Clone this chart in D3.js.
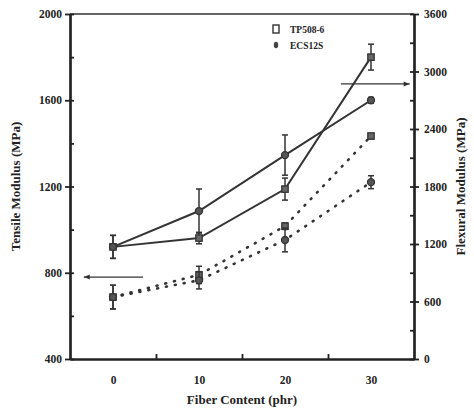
<!DOCTYPE html>
<html>
<head>
<meta charset="utf-8">
<script src="https://cdn.jsdelivr.net/npm/d3@7"></script>
<style>
  body { margin: 0; background: #fff; }
  svg { display: block; }
  text { font-family: "Liberation Serif", "DejaVu Serif", serif; font-weight: bold; fill: #222; }
  .domain, .tick line { stroke: #222; }
</style>
</head>
<body>
<svg width="474" height="411"></svg>
<script>
// fiber content (phr)
const fiber = [0, 10, 20, 30];
const seriesNames = ["TP508-6", "ECS12S"];

// tensile modulus (MPa) – dotted lines, left axis
const tensileTP = [687, 790, 1016, 1434];
const tensileTPErr = [55, 40, 15, 12];
const tensileECS = [687, 765, 952, 1220];
const tensileECSErr = [55, 40, 55, 30];

// flexural modulus (MPa) – solid lines, right axis
const flexTP = [1170, 1262, 1773, 3150];
const flexTPErr = [120, 60, 115, 135];
const flexECS = [1170, 1544, 2128, 2700];
const flexECSErr = [120, 230, 210, 30];

const leftTicks = [400, 800, 1200, 1600, 2000];
const leftMinor = [600, 1000, 1400, 1800];
const rightTicks = [0, 600, 1200, 1800, 2400, 3000, 3600];
const rightMinor = [300, 900, 1500, 2100, 2700, 3300];
const xTicks = [0, 10, 20, 30];
const xMinor = [5, 15, 25];

const svg = d3.select("svg");
const m = { left: 70, right: 60, top: 14, bottom: 52 };
const W = 474, H = 411;
const fmt = d3.format("d");

const x = d3.scaleLinear().domain([-5, 35]).range([m.left, W - m.right]);
const yL = d3.scaleLinear().domain([400, 2000]).range([H - m.bottom, m.top]);
const yR = d3.scaleLinear().domain([0, 3600]).range([H - m.bottom, m.top]);

// top border
svg.append("line")
  .attr("x1", x(-5)).attr("x2", x(35))
  .attr("y1", m.top).attr("y2", m.top)
  .attr("stroke", "#333").attr("stroke-width", 1.6);

// left axis: outward major ticks + inward all ticks
const gL = svg.append("g").attr("transform", `translate(${m.left},0)`);
gL.call(d3.axisLeft(yL).tickValues(leftTicks).tickFormat(fmt).tickSize(5).tickSizeOuter(0).tickPadding(3));
gL.append("g").call(d3.axisRight(yL).tickValues(leftTicks.concat(leftMinor)).tickSize(4).tickFormat("").tickSizeOuter(0));

const gR = svg.append("g").attr("transform", `translate(${W - m.right},0)`);
gR.call(d3.axisRight(yR).tickValues(rightTicks).tickFormat(fmt).tickSize(5).tickSizeOuter(0).tickPadding(5));
gR.append("g").call(d3.axisLeft(yR).tickValues(rightTicks.concat(rightMinor)).tickSize(4).tickFormat("").tickSizeOuter(0));

const gX = svg.append("g").attr("transform", `translate(0,${H - m.bottom})`);
gX.call(d3.axisBottom(x).tickValues(xTicks).tickFormat(fmt).tickSize(0).tickSizeOuter(0).tickPadding(17));
gX.append("g").call(d3.axisTop(x).tickValues(xMinor).tickSize(5).tickFormat("").tickSizeOuter(0));

svg.selectAll(".domain").attr("stroke-width", 2.2);
svg.selectAll(".tick line").attr("stroke-width", 1.8);
svg.selectAll(".tick text")
  .style("font-family", "'Liberation Serif', serif")
  .style("font-weight", "bold")
  .style("font-size", "11.5px").attr("fill", "#222");

// axis titles
svg.append("text")
  .attr("x", x(15)).attr("y", 404)
  .attr("text-anchor", "middle").style("font-size", "13px")
  .text("Fiber Content (phr)");
svg.append("text")
  .attr("transform", `translate(20,${(m.top + H - m.bottom) / 2}) rotate(-90)`)
  .attr("text-anchor", "middle").style("font-size", "13px")
  .text("Tensile Modulus (MPa)");
svg.append("text")
  .attr("transform", `translate(465,${(m.top + H - m.bottom) / 2}) rotate(-90)`)
  .attr("text-anchor", "middle").style("font-size", "13px")
  .text("Flexural Modulus (MPa)");

const line = (scale) => d3.line().x((d, i) => x(fiber[i])).y(d => scale(d));

function drawSeries(vals, errs, scale, dotted, shape) {
  const g = svg.append("g");
  g.append("path")
    .attr("d", line(scale)(vals))
    .attr("fill", "none")
    .attr("stroke", "#333")
    .attr("stroke-width", dotted ? 2.6 : 2)
    .attr("stroke-linecap", dotted ? "round" : "butt")
    .attr("stroke-dasharray", dotted ? "1,8" : null);
  vals.forEach((v, i) => {
    const cx = x(fiber[i]);
    const t = scale(v + errs[i]), b = scale(v - errs[i]);
    g.append("line").attr("x1", cx).attr("x2", cx).attr("y1", t).attr("y2", b)
      .attr("stroke", "#333").attr("stroke-width", 1.5);
    [t, b].forEach(yy => g.append("line")
      .attr("x1", cx - 3).attr("x2", cx + 3).attr("y1", yy).attr("y2", yy)
      .attr("stroke", "#333").attr("stroke-width", 1.5));
    const cy = scale(v);
    if (shape === "square") {
      g.append("rect").attr("x", cx - 3.2).attr("y", cy - 3.2).attr("width", 6.4).attr("height", 6.4)
        .attr("fill", "#666").attr("stroke", "#333").attr("stroke-width", 1.3);
    } else {
      g.append("circle").attr("cx", cx).attr("cy", cy).attr("r", 3.5)
        .attr("fill", "#555").attr("stroke", "#333").attr("stroke-width", 1.3);
    }
  });
}

drawSeries(tensileTP, tensileTPErr, yL, true, "square");
drawSeries(tensileECS, tensileECSErr, yL, true, "diamond");
drawSeries(flexTP, flexTPErr, yR, false, "square");
drawSeries(flexECS, flexECSErr, yR, false, "diamond");

// arrows pointing to the matching axis
function arrow(x1, x2, yy) {
  svg.append("line").attr("x1", x1).attr("x2", x2).attr("y1", yy).attr("y2", yy)
    .attr("stroke", "#333").attr("stroke-width", 1.3);
  const dir = x2 > x1 ? 1 : -1;
  svg.append("path")
    .attr("d", `M${x2},${yy} L${x2 - dir * 6},${yy - 2.5} L${x2 - dir * 6},${yy + 2.5} Z`)
    .attr("fill", "#333");
}
arrow(x(3.5), x(-3.4), yL(780));
arrow(x(26.5), x(34.5), yR(2870));

// legend
const leg = svg.append("g").attr("transform", "translate(276,29)");
seriesNames.forEach((name, i) => {
  const yy = i * 16;
  if (i === 0) {
    leg.append("rect").attr("x", -3).attr("y", yy - 4).attr("width", 6).attr("height", 8)
      .attr("fill", "none").attr("stroke", "#333").attr("stroke-width", 1.4);
  } else {
    leg.append("ellipse").attr("cx", 0).attr("cy", yy).attr("rx", 2.2).attr("ry", 3.2)
      .attr("fill", "#444");
  }
  leg.append("text").attr("x", 14).attr("y", yy + 3.5)
    .style("font-size", "9.5px").text(name);
});
</script>
</body>
</html>
